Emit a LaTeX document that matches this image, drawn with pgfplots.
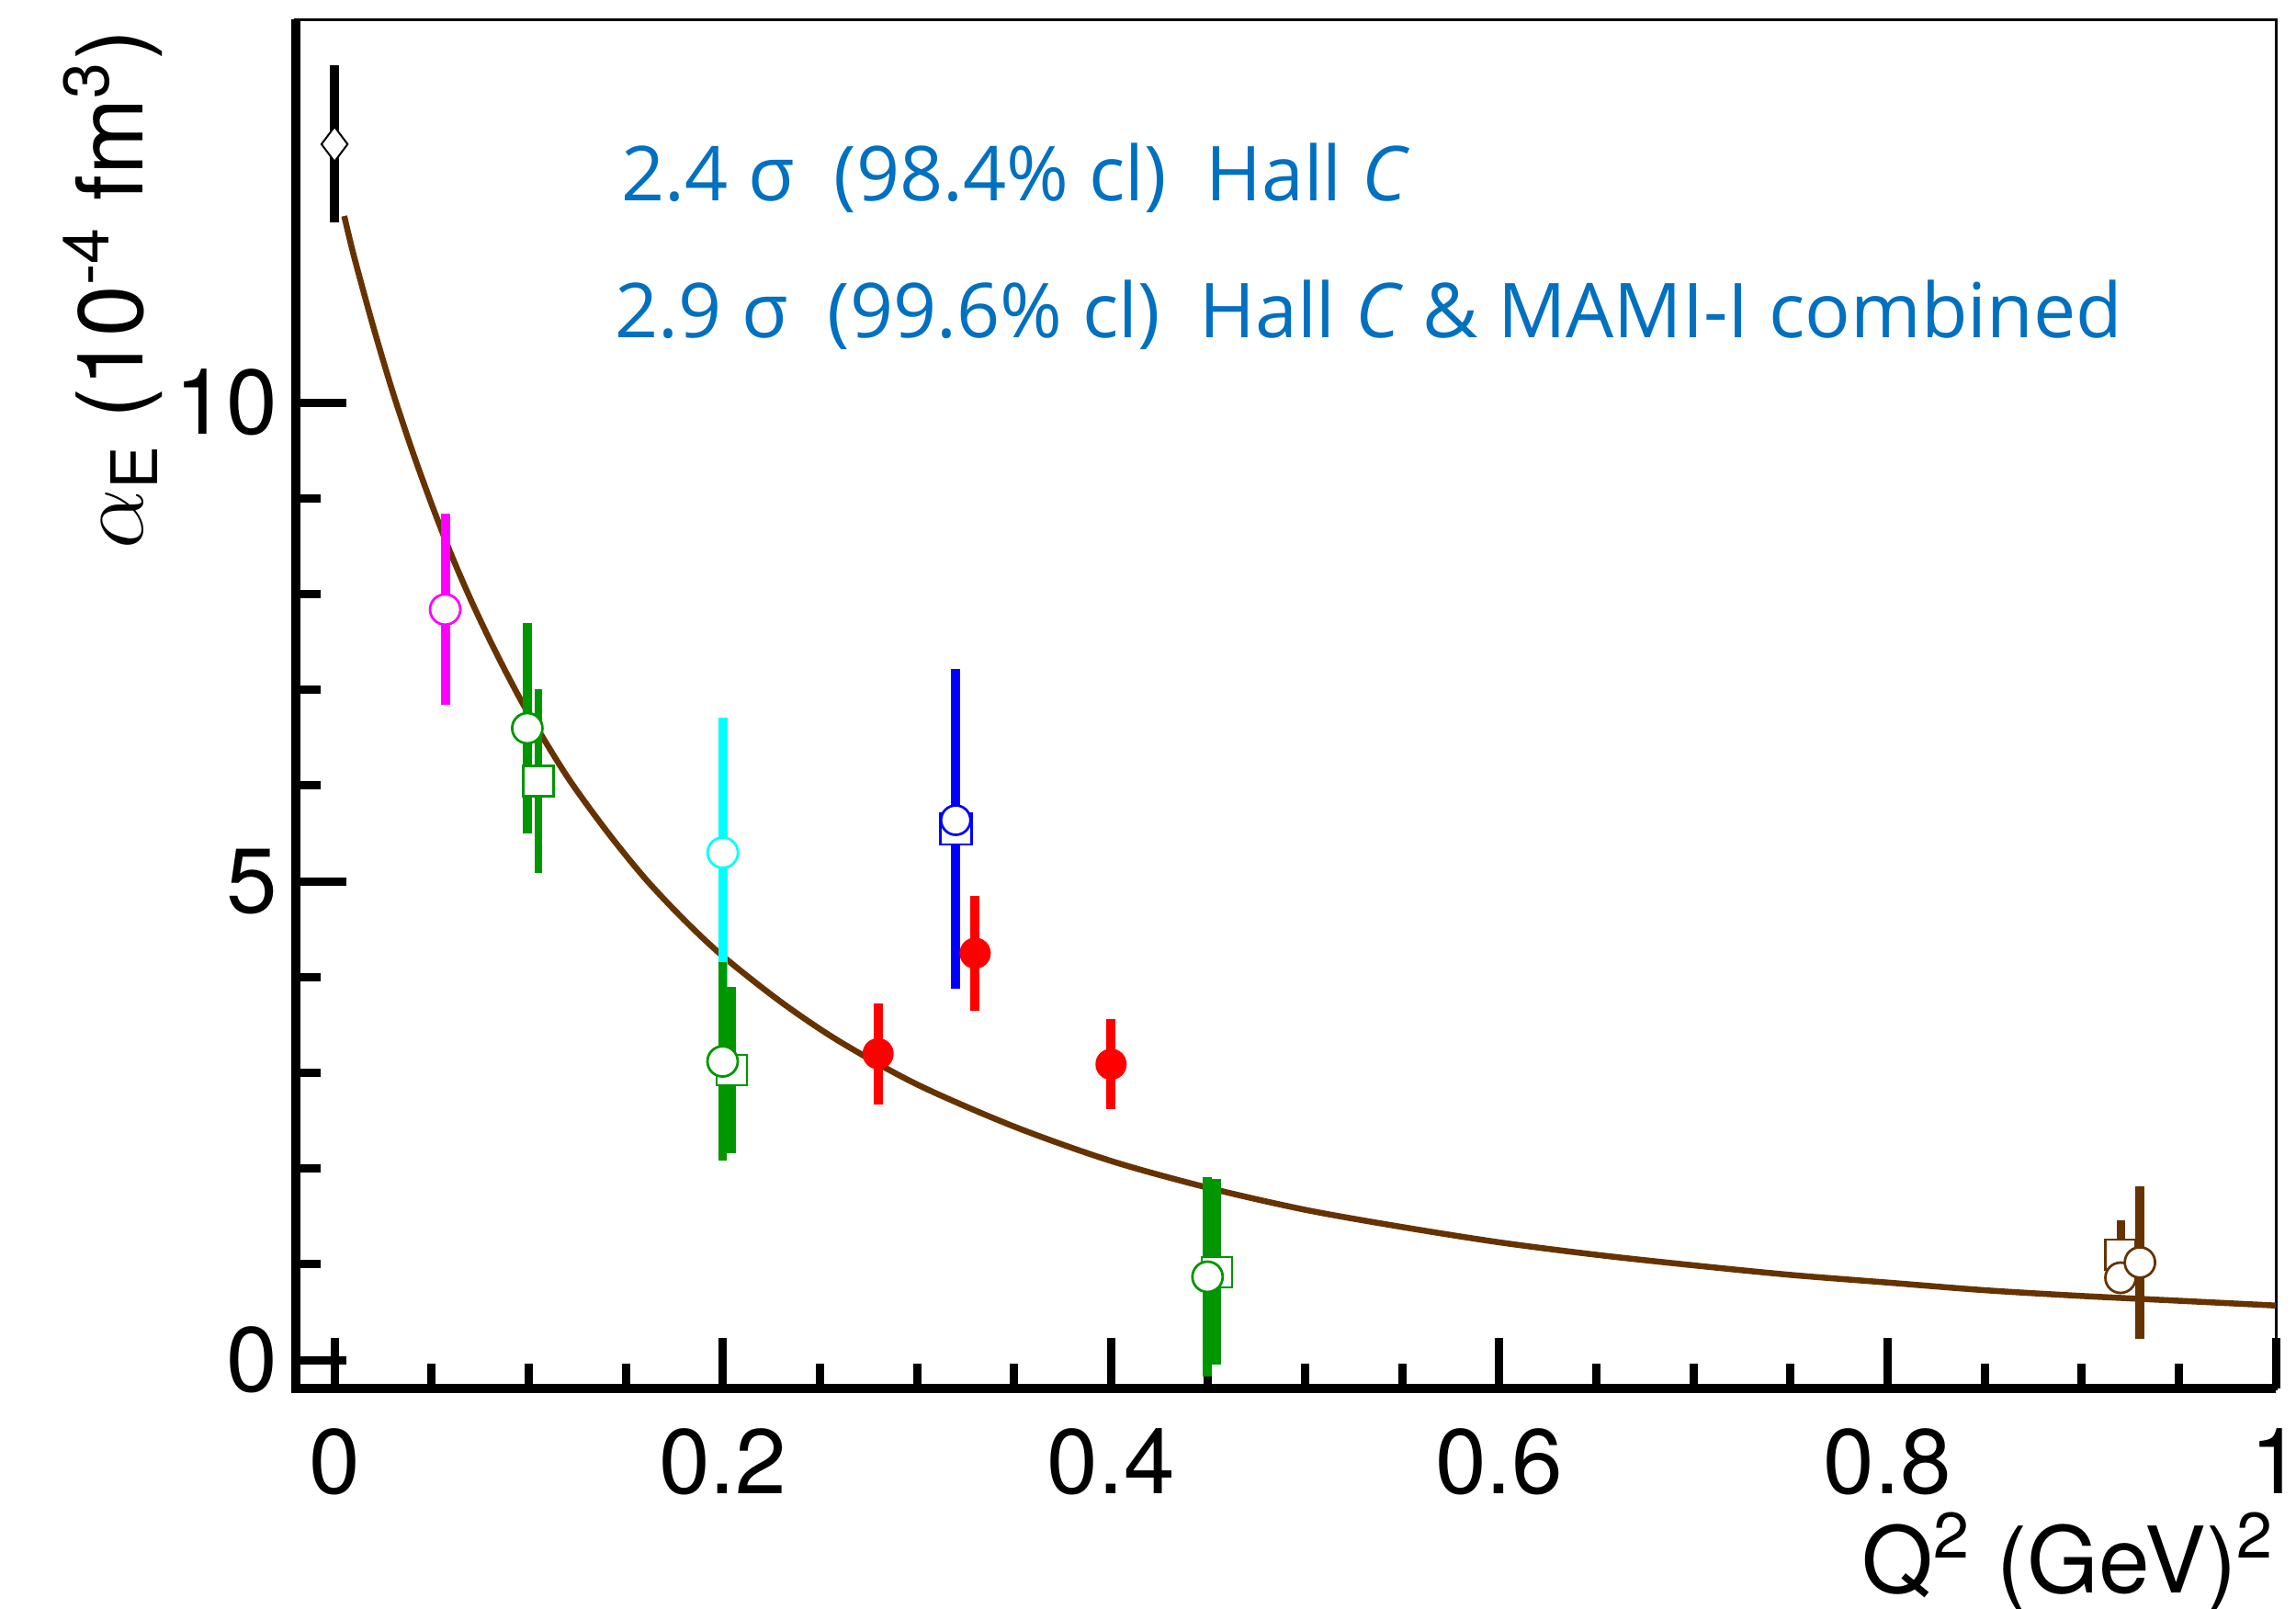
\documentclass[border=0pt]{standalone}
\usepackage{fontspec}
\setmainfont{TeX Gyre Heros}
\newfontfamily\annotfont{Open Sans}
\usepackage{pgfplots}
\pgfplotsset{compat=1.18}
\definecolor{rgreen}{RGB}{0,150,0}
\definecolor{rbrown}{RGB}{102,51,0}
\definecolor{tblue}{RGB}{0,112,192}
\definecolor{rmag}{RGB}{255,0,255}
\definecolor{rcyan}{RGB}{0,255,255}
\definecolor{rblue}{RGB}{0,0,255}
\definecolor{rred}{RGB}{255,0,0}
\pgfplotsset{ebar/.style={draw=none, mark=none, forget plot, error bars/.cd, y dir=both, y explicit, error mark=none}}
\begin{document}
\begin{tikzpicture}
\begin{axis}[
  scale only axis, width=431.2pt, height=298.1pt,
  xmin=-0.02, xmax=1.0, ymin=-0.3, ymax=14.0,
  clip=false,
  xtick={0,0.2,0.4,0.6,0.8,1}, minor x tick num=3,
  ytick={0,5,10}, minor y tick num=4,
  tick align=inside, tick pos=left,
  major tick length=11pt, minor tick length=5.5pt,
  tick style={black, line width=1.8pt},
  axis line style={black, line width=0.6pt},
  /pgf/number format/assume math mode=true,
  ticklabel style={font=\fontsize{20}{24}\selectfont},
  xticklabel style={inner sep=0pt, yshift=-8.4pt},
  yticklabel style={inner sep=0pt, xshift=-3.8pt},
  xlabel={Q\textsuperscript{2} (GeV)\textsuperscript{2}},
  ylabel={$\alpha$\textsubscript{E} (10\textsuperscript{-4} fm\textsuperscript{3})},
  label style={font=\fontsize{20}{24}\selectfont},
  xlabel style={at={(axis description cs:1,-0.149)}, anchor=base east, inner sep=0pt},
  ylabel style={at={(axis description cs:-0.077,0.9933)}, anchor=base east, inner sep=0pt},
]
% fitted curve
\addplot[rbrown, line width=1.3pt, smooth] coordinates {
(0.005,11.95)(0.01,11.53)(0.02,10.79)(0.03,10.11)(0.04,9.50)(0.05,8.94)(0.06,8.42)
(0.07,7.95)(0.08,7.52)(0.09,7.12)(0.10,6.75)(0.12,6.09)(0.14,5.53)(0.16,5.03)
(0.18,4.60)(0.20,4.22)(0.23,3.74)(0.26,3.33)(0.30,2.88)(0.35,2.44)(0.40,2.08)
(0.45,1.80)(0.50,1.57)(0.55,1.39)(0.60,1.23)(0.65,1.10)(0.70,0.99)(0.75,0.89)
(0.80,0.81)(0.85,0.73)(0.90,0.67)(0.95,0.62)(1.00,0.57)};
% squares (under the bars)
\addplot[only marks, mark=square*, mark size=3.3pt, mark options={draw=rgreen, fill=white, line width=0.5pt}]
 coordinates {(0.1051,6.05) (0.2046,3.03) (0.4545,0.92)};
\addplot[only marks, mark=square*, mark size=3.4pt, mark options={draw=rblue, fill=white, line width=0.5pt}]
 coordinates {(0.32,5.55)};
\addplot[only marks, mark=square*, mark size=3.3pt, mark options={draw=rbrown, fill=white, line width=0.5pt}]
 coordinates {(0.92,1.10)};
% error bars
\addplot[ebar, error bar style={line width=2pt, draw=rcyan}] coordinates {(0.2,5.30) +- (0,1.41)};
\addplot[ebar, error bar style={line width=2pt, draw=rmag}] coordinates {(0.057,7.84) +- (0,1.0)};
\addplot[ebar, error bar style={line width=2pt, draw=rblue}] coordinates {(0.32,5.55) +- (0,1.67) (0.32,5.64) +- (0,1.5)};
\addplot[ebar, error bar style={line width=2pt, draw=rgreen}] coordinates {(0.0993,6.60) +- (0,1.10) (0.1999,3.12) +- (0,1.04) (0.4497,0.87) +- (0,1.04) (0.2046,3.03) +- (0,0.87) (0.4545,0.92) +- (0,0.97)};
\addplot[ebar, error bar style={line width=1.6pt, draw=rgreen}] coordinates {(0.1051,6.05) +- (0,0.96)};
\addplot[ebar, error bar style={line width=2pt, draw=rred}] coordinates {(0.28,3.20) +- (0,0.53) (0.33,4.25) +- (0,0.60) (0.40,3.09) +- (0,0.47)};
\addplot[ebar, error bar style={line width=2pt, draw=rbrown}] coordinates {(0.93,1.02) +- (0,0.80)};
\addplot[ebar, error bar style={line width=1.8pt, draw=rbrown}] coordinates {(0.92,1.10) +- (0,0.36)};
\addplot[ebar, error bar style={line width=2pt, draw=black}] coordinates {(0,12.70) +- (0,0.82)};
% open circles
\addplot[only marks, mark=*, mark size=3.3pt, mark options={draw=rmag, fill=white, line width=0.55pt}] coordinates {(0.057,7.84)};
\addplot[only marks, mark=*, mark size=3.3pt, mark options={draw=rgreen, fill=white, line width=0.55pt}] coordinates {(0.0993,6.60) (0.1999,3.12) (0.4497,0.87)};
\addplot[only marks, mark=*, mark size=3.3pt, mark options={draw=rcyan, fill=white, line width=0.55pt}] coordinates {(0.2,5.30)};
\addplot[only marks, mark=*, mark size=3.2pt, mark options={draw=rblue, fill=white, line width=0.55pt}] coordinates {(0.32,5.64)};
\addplot[only marks, mark=*, mark size=3.3pt, mark options={draw=rbrown, fill=white, line width=0.55pt}] coordinates {(0.92,0.86) (0.93,1.02)};
% filled red
\addplot[only marks, mark=*, mark size=3.2pt, mark options={draw=rred, fill=rred}] coordinates {(0.28,3.20) (0.33,4.25) (0.40,3.09)};
% diamond
\addplot[only marks, mark=diamond*, mark size=3.8pt, mark options={draw=black, fill=white, line width=0.4pt}] coordinates {(0,12.70)};
% annotations
\node[anchor=base west, inner sep=0pt, text=tblue, font=\annotfont\fontsize{16.5}{20}\selectfont] at (axis cs:0.1475,12.11) {2.4 σ\ \ (98.4\% cl)\ \ Hall \textit{C}};
\node[anchor=base west, inner sep=0pt, text=tblue, font=\annotfont\fontsize{16.5}{20}\selectfont] at (axis cs:0.1442,10.68) {2.9 σ\ \ (99.6\% cl)\ \ Hall \textit{C} \& MAMI-I combined};
% thick bottom/left axis lines
\draw[black, line width=2pt] (rel axis cs:0,1) -- (rel axis cs:0,0) -- (rel axis cs:1,0);
\coordinate (bl) at (rel axis cs:0,0);
\coordinate (tr) at (rel axis cs:1,1);
\end{axis}
\pgfresetboundingbox
\path ([shift={(-64.4pt,-47.8pt)}]bl) rectangle ([shift={(4.4pt,4.3pt)}]tr);
\end{tikzpicture}
\end{document}
